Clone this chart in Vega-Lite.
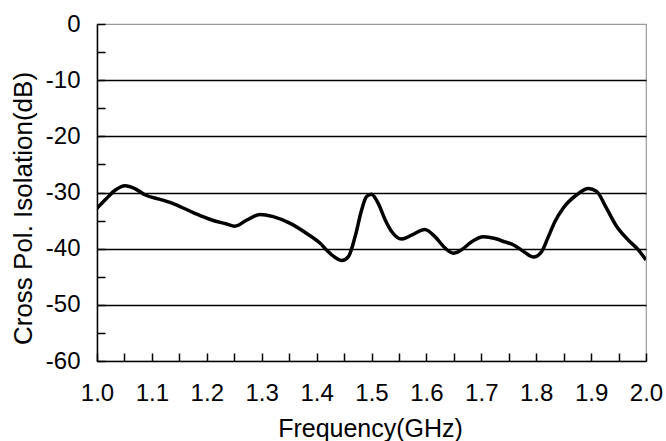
{
  "$schema": "https://vega.github.io/schema/vega-lite/v6.json",
  "width": 549,
  "height": 337,
  "autosize": {"type": "none"},
  "padding": {"left": 97, "top": 24, "right": 20, "bottom": 80},
  "background": "white",
  "config": {
    "view": {"stroke": "#999999", "strokeWidth": 1.2},
    "font": "Liberation Sans"
  },
  "data": {
    "values": [
      {"f": 1.000, "db": -32.8},
      {"f": 1.015, "db": -31.3},
      {"f": 1.033, "db": -29.6},
      {"f": 1.051, "db": -28.8},
      {"f": 1.069, "db": -29.3},
      {"f": 1.087, "db": -30.4},
      {"f": 1.118, "db": -31.3},
      {"f": 1.142, "db": -32.1},
      {"f": 1.178, "db": -33.7},
      {"f": 1.209, "db": -34.9},
      {"f": 1.236, "db": -35.6},
      {"f": 1.251, "db": -36.0},
      {"f": 1.273, "db": -34.9},
      {"f": 1.297, "db": -33.9},
      {"f": 1.321, "db": -34.3},
      {"f": 1.352, "db": -35.5},
      {"f": 1.382, "db": -37.3},
      {"f": 1.406, "db": -39.0},
      {"f": 1.424, "db": -40.8},
      {"f": 1.446, "db": -42.1},
      {"f": 1.458, "db": -41.4},
      {"f": 1.470, "db": -37.9},
      {"f": 1.482, "db": -33.1},
      {"f": 1.491, "db": -30.7},
      {"f": 1.500, "db": -30.3},
      {"f": 1.512, "db": -31.9},
      {"f": 1.525, "db": -34.9},
      {"f": 1.537, "db": -37.0},
      {"f": 1.555, "db": -38.3},
      {"f": 1.573, "db": -37.6},
      {"f": 1.597, "db": -36.6},
      {"f": 1.616, "db": -37.9},
      {"f": 1.634, "db": -39.9},
      {"f": 1.649, "db": -40.8},
      {"f": 1.664, "db": -40.2},
      {"f": 1.682, "db": -38.8},
      {"f": 1.704, "db": -37.9},
      {"f": 1.725, "db": -38.2},
      {"f": 1.743, "db": -38.8},
      {"f": 1.758, "db": -39.3},
      {"f": 1.777, "db": -40.5},
      {"f": 1.795, "db": -41.5},
      {"f": 1.810, "db": -40.5},
      {"f": 1.822, "db": -37.9},
      {"f": 1.834, "db": -35.2},
      {"f": 1.849, "db": -32.8},
      {"f": 1.874, "db": -30.4},
      {"f": 1.895, "db": -29.3},
      {"f": 1.910, "db": -29.8},
      {"f": 1.928, "db": -32.8},
      {"f": 1.947, "db": -36.1},
      {"f": 1.968, "db": -38.5},
      {"f": 1.986, "db": -40.2},
      {"f": 2.000, "db": -42.0}
    ]
  },
  "mark": {"type": "line", "color": "black", "strokeWidth": 3.5, "interpolate": "monotone", "clip": true},
  "encoding": {
    "x": {
      "field": "f",
      "type": "quantitative",
      "scale": {"domain": [1, 2], "nice": false, "zero": false},
      "axis": {
        "title": "Frequency(GHz)",
        "values": [1.0, 1.05, 1.1, 1.15, 1.2, 1.25, 1.3, 1.35, 1.4, 1.45, 1.5, 1.55, 1.6, 1.65, 1.7, 1.75, 1.8, 1.85, 1.9, 1.95, 2.0],
        "labelExpr": "round(datum.value * 100) % 10 == 0 ? format(datum.value, '.1f') : ''",
        "grid": false,
        "domainColor": "black",
        "domainWidth": 1.5,
        "tickColor": "black",
        "tickWidth": 1.5,
        "tickSize": -8,
        "labelPadding": 47,
        "labelBaseline": "alphabetic",
        "labelFlush": false,
        "labelOverlap": false,
        "labelBound": false,
        "labelFont": "Liberation Sans",
        "labelFontSize": 24,
        "labelColor": "black",
        "titleFont": "Liberation Sans",
        "titleFontSize": 25,
        "titleFontWeight": "normal",
        "titleColor": "black",
        "titleBaseline": "alphabetic",
        "titleX": 273,
        "titleY": 75,
        "titleAnchor": "middle"
      }
    },
    "y": {
      "field": "db",
      "type": "quantitative",
      "scale": {"domain": [-60, 0], "nice": false, "zero": false},
      "axis": {
        "title": "Cross Pol. Isolation(dB)",
        "values": [-60, -55, -50, -45, -40, -35, -30, -25, -20, -15, -10, -5, 0],
        "labelExpr": "datum.value % 10 == 0 ? '' + datum.value : ''",
        "grid": true,
        "gridColor": "black",
        "gridWidth": 1.3,
        "gridOpacity": {"condition": {"test": "datum.value % 10 == 0 && datum.value > -60 && datum.value < 0", "value": 1}, "value": 0},
        "domainColor": "black",
        "domainWidth": 1.5,
        "tickColor": "black",
        "tickWidth": 1.5,
        "tickSize": -8,
        "labelPadding": 25,
        "labelBaseline": "middle",
        "labelFlush": false,
        "labelOverlap": false,
        "labelBound": false,
        "labelFont": "Liberation Sans",
        "labelFontSize": 24,
        "labelColor": "black",
        "titleFont": "Liberation Sans",
        "titleFontSize": 26,
        "titleFontWeight": "normal",
        "titleColor": "black",
        "titleBaseline": "alphabetic",
        "titleAngle": -90,
        "titleX": -66,
        "titleY": 184,
        "titleAnchor": "middle"
      }
    }
  }
}
